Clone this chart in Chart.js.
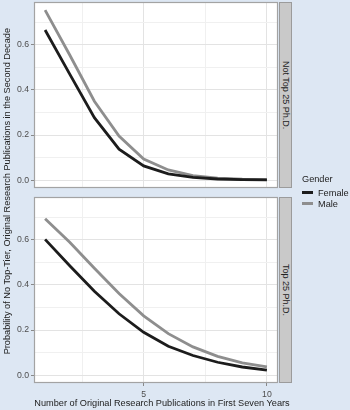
<!DOCTYPE html>
<html>
<head>
<meta charset="utf-8">
<script src="https://cdn.jsdelivr.net/npm/chart.js@4.4.1/dist/chart.umd.min.js"></script>
<style>
  body { margin: 0; background: #dde7f3; font-family: 'Liberation Sans', Arial, sans-serif; }
  #wrap { position: relative; width: 350px; height: 410px; overflow: hidden; }
  canvas { position: absolute; left: 0; }
  .strip { position: absolute; left: 279px; width: 13px; box-sizing: border-box; background: #c9c9c9; border: 1px solid #9b9b9b;
    display: flex; align-items: center; justify-content: center; }
  .strip span { writing-mode: vertical-rl; font-size: 9px; color: #222; white-space: nowrap; }
  #ytitle { position: absolute; left: 0; top: 0; width: 13px; height: 383px; display: flex; align-items: center; justify-content: center; }
  #ytitle span { writing-mode: vertical-rl; transform: rotate(180deg); font-size: 9.2px; color: #222; white-space: nowrap; }
  #xtitle { position: absolute; left: 0; width: 324px; top: 398px; text-align: center; font-size: 9.2px; color: #222; white-space: nowrap; }
  #legend { position: absolute; left: 302px; top: 174px; font-size: 9.2px; color: #222; }
  #legend .item { display: flex; align-items: center; height: 11px; }
  #legend .key { width: 11px; height: 3px; margin-right: 5px; }
  #legend .ttl { height: 13px; }
</style>
</head>
<body>
<div id="wrap">
  <canvas id="top" width="350" height="192" style="top:0"></canvas>
  <canvas id="bot" width="350" height="218" style="top:192px"></canvas>
  <div class="strip" style="top:2px;height:186px"><span>Not Top 25 Ph.D.</span></div>
  <div class="strip" style="top:197px;height:186px"><span>Top 25 Ph.D.</span></div>
  <div id="ytitle"><span>Probability of No Top-Tier, Original Research Publications in the Second Decade</span></div>
  <div id="xtitle">Number of Original Research Publications in First Seven Years</div>
  <div id="legend"></div>
</div>
<script>
// data
const pubs = [1, 2, 3, 4, 5, 6, 7, 8, 9, 10];
const seriesNames = ['Female', 'Male'];
const seriesColors = ['#1c1c1c', '#8e8e8e'];
const notTopFemale = [0.666, 0.47, 0.277, 0.137, 0.063, 0.028, 0.012, 0.005, 0.002, 0.001];
const notTopMale = [0.754, 0.555, 0.35, 0.195, 0.093, 0.045, 0.02, 0.009, 0.004, 0.002];
const topFemale = [0.602, 0.485, 0.372, 0.272, 0.19, 0.128, 0.087, 0.057, 0.036, 0.022];
const topMale = [0.694, 0.589, 0.474, 0.362, 0.263, 0.184, 0.125, 0.083, 0.054, 0.036];
const yTicks = [0, 0.2, 0.4, 0.6];
const yMinor = [0.1, 0.3, 0.5, 0.7];
const xTicks = [5, 10];
const xMinor = [2.5, 7.5];

const FontFamily = "'Liberation Sans', Arial, sans-serif";

const panelPlugin = {
	id: 'panel',
	beforeDraw(chart) {
		const { ctx, chartArea: a } = chart;
		ctx.save();
		ctx.fillStyle = '#ffffff';
		ctx.fillRect(a.left, a.top, a.right - a.left, a.bottom - a.top);
		ctx.restore();
	},
	afterDraw(chart) {
		const { ctx, chartArea: a } = chart;
		ctx.save();
		ctx.strokeStyle = '#a3a3a3';
		ctx.lineWidth = 1.2;
		ctx.strokeRect(a.left + 0.5, a.top + 0.5, a.right - a.left - 1, a.bottom - a.top - 1);
		ctx.restore();
	}
};

const isMajor = (list, v) => list.some(t => Math.abs(t - v) < 1e-6);

const makeChart = (id, female, male, showX, padding) => {
	const datasets = [female, male].map((data, i) => ({
		label: seriesNames[i],
		data: pubs.map((x, j) => ({ x: x, y: data[j] })),
		borderColor: seriesColors[i],
		borderWidth: 2.8,
		pointRadius: 0,
		tension: 0,
		fill: false
	}));
	return new Chart(document.getElementById(id).getContext('2d'), {
		type: 'line',
		data: { datasets: datasets },
		plugins: [panelPlugin],
		options: {
			responsive: false,
			animation: false,
			layout: { padding: padding },
			plugins: { legend: { display: false }, tooltip: { enabled: false } },
			scales: {
				x: {
					type: 'linear',
					min: 0.55,
					max: 10.45,
					afterBuildTicks: s => { s.ticks = [...xMinor, ...xTicks].sort((a, b) => a - b).map(v => ({ value: v })); },
					afterFit: s => { s.height = showX ? 20 : 0; s.paddingLeft = 0; s.paddingRight = 0; },
					border: { display: false },
					grid: {
						color: c => isMajor(xTicks, c.tick.value) ? '#e3e3e3' : '#f0f0f0',
						tickColor: c => isMajor(xTicks, c.tick.value) ? '#888' : 'rgba(0,0,0,0)',
						drawTicks: showX,
						tickLength: 3,
						lineWidth: 1
					},
					ticks: {
						display: showX,
						autoSkip: false,
						maxRotation: 0,
						padding: 3,
						color: '#4d4d4d',
						font: { family: FontFamily, size: 8.7 },
						callback: v => isMajor(xTicks, v) ? String(v) : ''
					}
				},
				y: {
					min: -0.035,
					max: 0.79,
					afterBuildTicks: s => { s.ticks = [...yTicks, ...yMinor].sort((a, b) => a - b).map(v => ({ value: v })); },
					afterFit: s => { s.width = 34; s.paddingTop = 0; s.paddingBottom = 0; },
					border: { display: false },
					grid: {
						color: c => isMajor(yTicks, c.tick.value) ? '#e3e3e3' : '#f0f0f0',
						tickColor: c => isMajor(yTicks, c.tick.value) ? '#888' : 'rgba(0,0,0,0)',
						tickLength: 3,
						lineWidth: 1
					},
					ticks: {
						autoSkip: false,
						padding: 2,
						color: '#4d4d4d',
						font: { family: FontFamily, size: 8.7 },
						callback: v => isMajor(yTicks, v) ? v.toFixed(1) : ''
					}
				}
			}
		}
	});
};

const buildLegend = () => {
	const legend = document.getElementById('legend');
	legend.innerHTML = '<div class="ttl">Gender</div>' + seriesNames.map((name, i) =>
		`<div class="item"><span class="key" style="background:${seriesColors[i]}"></span>${name}</div>`).join('');
};

makeChart('top', notTopFemale, notTopMale, false, { left: 0, right: 72, top: 2, bottom: 4 });
makeChart('bot', topFemale, topMale, true, { left: 0, right: 72, top: 5, bottom: 7 });
buildLegend();
</script>
</body>
</html>
